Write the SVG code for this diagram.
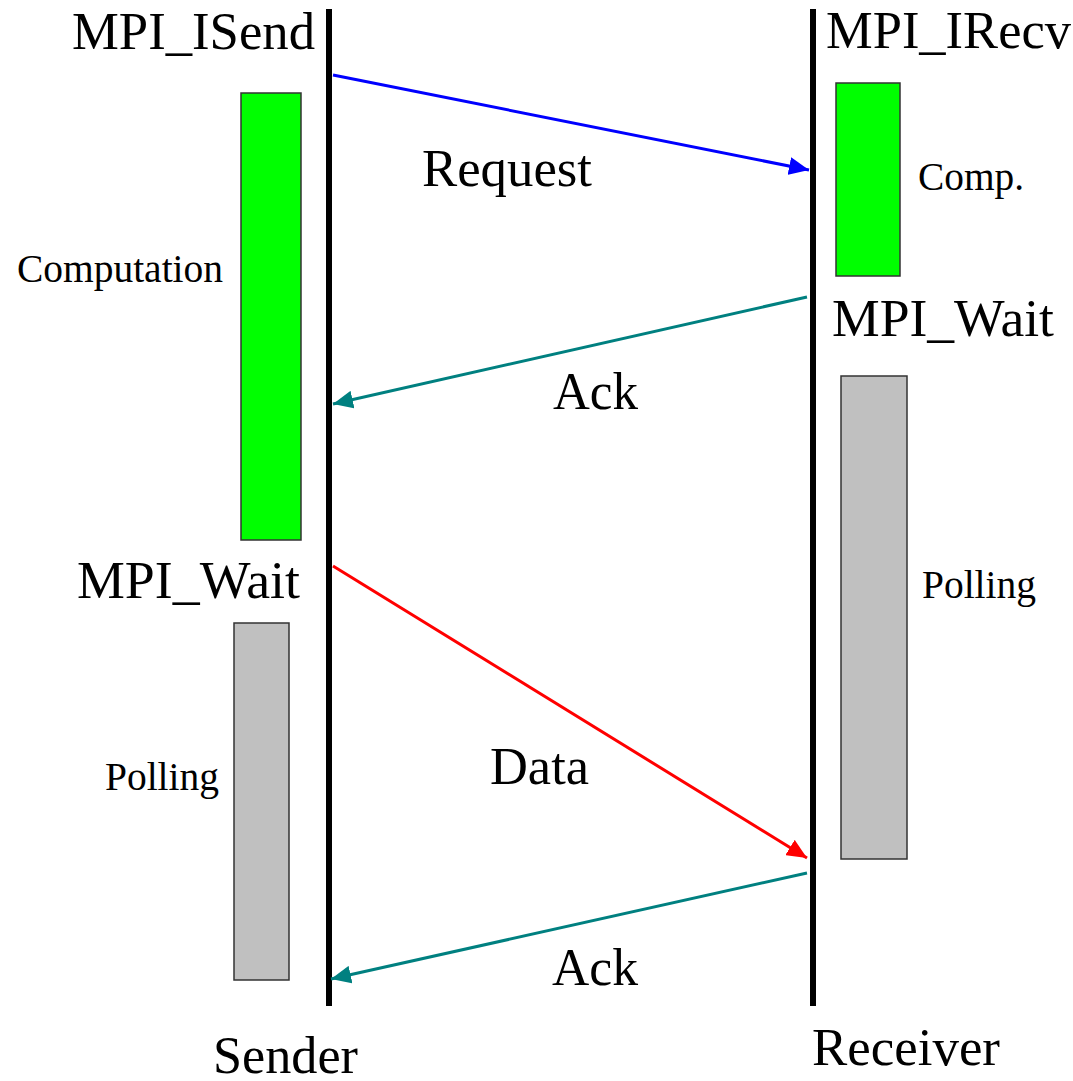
<svg xmlns="http://www.w3.org/2000/svg" width="1073" height="1081" viewBox="0 0 1073 1081">
<style>
text{font-family:"Liberation Serif","Times New Roman",serif;fill:#000}
.big{font-size:53px}
.sm{font-size:39.5px}
.life{stroke:#000;stroke-width:6;fill:none}
.comp{fill:#00ff00;stroke:#333;stroke-width:1.5}
.poll{fill:#c0c0c0;stroke:#333;stroke-width:1.5}
.msg{stroke-width:3;fill:none}
</style>
<defs>
<marker id="ab" viewBox="0 0 20 18" refX="20" refY="9" markerWidth="20" markerHeight="18" markerUnits="userSpaceOnUse" orient="auto"><path d="M0,0 L20,9 L0,18 Z" fill="#0000ff"/></marker>
<marker id="at" viewBox="0 0 20 18" refX="20" refY="9" markerWidth="20" markerHeight="18" markerUnits="userSpaceOnUse" orient="auto"><path d="M0,0 L20,9 L0,18 Z" fill="#008080"/></marker>
<marker id="ar" viewBox="0 0 20 18" refX="20" refY="9" markerWidth="20" markerHeight="18" markerUnits="userSpaceOnUse" orient="auto"><path d="M0,0 L20,9 L0,18 Z" fill="#ff0000"/></marker>
</defs>
<rect width="1073" height="1081" fill="#fff"/>
<g id="sender">
<line class="life" x1="329" y1="9" x2="329" y2="1006"/>
<text class="big" x="72" y="49" textLength="243" lengthAdjust="spacingAndGlyphs">MPI_ISend</text>
<text class="big" x="213" y="1073" textLength="145" lengthAdjust="spacingAndGlyphs">Sender</text>
</g>
<g id="receiver">
<line class="life" x1="813" y1="9" x2="813" y2="1006"/>
<text class="big" x="826" y="48" textLength="245" lengthAdjust="spacingAndGlyphs">MPI_IRecv</text>
<text class="big" x="812" y="1065" textLength="188" lengthAdjust="spacingAndGlyphs">Receiver</text>
</g>
<g id="sender-computation">
<rect class="comp" x="241" y="93" width="60" height="447"/>
<text class="sm" x="17" y="282" textLength="206" lengthAdjust="spacingAndGlyphs">Computation</text>
</g>
<g id="receiver-comp">
<rect class="comp" x="836" y="83" width="64" height="193"/>
<text class="sm" x="918" y="190" textLength="106" lengthAdjust="spacingAndGlyphs">Comp.</text>
</g>
<g id="receiver-wait">
<text class="big" x="832" y="336" textLength="222" lengthAdjust="spacingAndGlyphs">MPI_Wait</text>
<rect class="poll" x="841" y="376" width="66" height="483"/>
<text class="sm" x="922" y="598" textLength="114" lengthAdjust="spacingAndGlyphs">Polling</text>
</g>
<g id="sender-wait">
<text class="big" x="77" y="598" textLength="223" lengthAdjust="spacingAndGlyphs">MPI_Wait</text>
<rect class="poll" x="234" y="623" width="55" height="357"/>
<text class="sm" x="105" y="790" textLength="114" lengthAdjust="spacingAndGlyphs">Polling</text>
</g>
<g id="connectors">
<line class="msg" stroke="#0000ff" x1="333" y1="75" x2="809" y2="170" marker-end="url(#ab)"/>
<line class="msg" stroke="#008080" x1="807" y1="297" x2="333" y2="404" marker-end="url(#at)"/>
<line class="msg" stroke="#ff0000" x1="333" y1="566" x2="807" y2="858" marker-end="url(#ar)"/>
<line class="msg" stroke="#008080" x1="807" y1="873" x2="331" y2="979" marker-end="url(#at)"/>
<text class="big" x="422" y="186" textLength="170" lengthAdjust="spacingAndGlyphs">Request</text>
<text class="big" x="553" y="409" textLength="85" lengthAdjust="spacingAndGlyphs">Ack</text>
<text class="big" x="490" y="784" textLength="99" lengthAdjust="spacingAndGlyphs">Data</text>
<text class="big" x="552" y="985" textLength="86" lengthAdjust="spacingAndGlyphs">Ack</text>
</g>
</svg>
